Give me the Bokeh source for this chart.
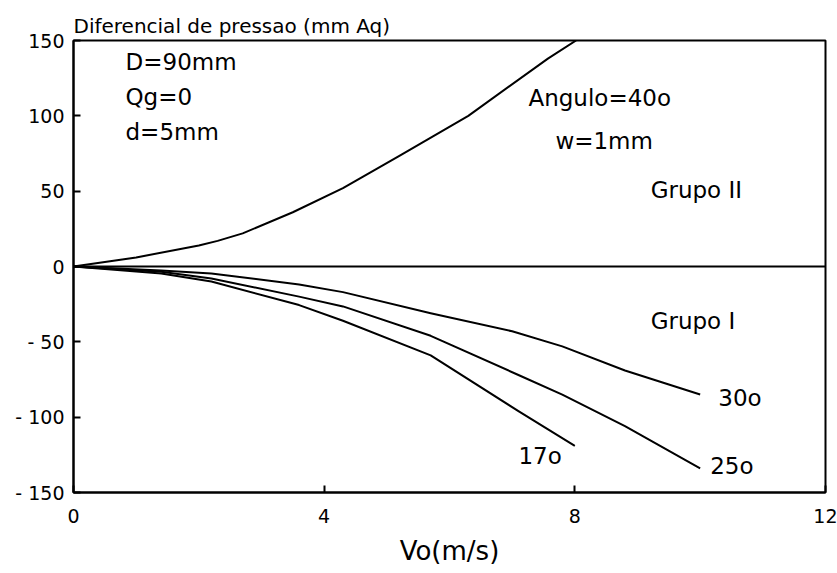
from bokeh.plotting import figure
from bokeh.models import Range1d, Label, FixedTicker
from bokeh.embed import file_html
from bokeh.resources import INLINE

# ---- data ----
x_g2 = [0, 1.0, 2.0, 2.3, 2.7, 3.5, 4.3, 5.2, 6.3, 7.57, 8.02]
y_g2 = [0, 6, 14, 17, 22, 36, 52, 73.5, 100, 138, 150]

x_30 = [0, 1.4, 2.2, 3.6, 4.3, 5.7, 7.0, 7.8, 8.8, 10.0]
y_30 = [0, -2.6, -4.6, -12, -17, -31, -43, -53, -69, -85]

x_25 = [0, 1.4, 2.2, 3.6, 4.3, 5.7, 7.1, 7.8, 8.8, 10.0]
y_25 = [0, -3.5, -8, -20, -26.5, -46, -72, -85, -106, -134]

x_17 = [0, 1.4, 2.2, 3.6, 4.3, 5.7, 7.1, 8.0]
y_17 = [0, -4.6, -10, -25.6, -36, -59, -96, -119]

x_ticks = [0, 4, 8, 12]
y_ticks = [-150, -100, -50, 0, 50, 100, 150]
y_tick_labels = ["- 150", "- 100", "- 50", "0", "50", "100", "150"]

FONT = "DejaVu Sans"

p = figure(width=837, height=573, output_backend="svg", toolbar_location=None,
           x_range=Range1d(0, 12), y_range=Range1d(-150, 150),
           min_border_left=73, min_border_right=12, min_border_top=40, min_border_bottom=81)

p.title.text = "Diferencial de pressao (mm Aq)"
p.title.align = "left"
p.title.text_font = FONT
p.title.text_font_size = "20px"
p.title.text_font_style = "normal"
p.title.text_color = "black"
p.title.standoff = 6

p.grid.visible = False
p.background_fill_color = "white"
p.border_fill_color = "white"
p.outline_line_color = "black"
p.outline_line_width = 2

for ax in (p.xaxis[0], p.yaxis[0]):
    ax.axis_line_color = "black"
    ax.axis_line_width = 2
    ax.major_tick_in = 7
    ax.major_tick_out = 0
    ax.major_tick_line_width = 2
    ax.minor_tick_line_color = None
    ax.major_label_text_font = FONT
    ax.major_label_text_font_size = "19px"
    ax.major_label_text_color = "black"

p.xaxis.ticker = FixedTicker(ticks=x_ticks)
p.xaxis.major_label_standoff = 16
p.xaxis.axis_label = "Vo(m/s)"
p.xaxis.axis_label_text_font = FONT
p.xaxis.axis_label_text_font_size = "26px"
p.xaxis.axis_label_text_font_style = "normal"
p.xaxis.axis_label_text_color = "black"
p.xaxis.axis_label_standoff = 10

p.yaxis.ticker = FixedTicker(ticks=y_ticks)
p.yaxis.major_label_overrides = {t: l for t, l in zip(y_ticks, y_tick_labels)}
p.yaxis.major_label_standoff = 9

# zero line
p.line([0, 12], [0, 0], line_color="black", line_width=2)

for xs, ys in ((x_g2, y_g2), (x_30, y_30), (x_25, y_25), (x_17, y_17)):
    p.line(xs, ys, line_color="black", line_width=2, line_join="round")

def lab(x, y, t):
    p.add_layout(Label(x=x, y=y, text=t, text_font=FONT, text_font_size="23px",
                       text_color="black", text_baseline="middle", text_align="left"))

lab(0.83, 135.5, "D=90mm")
lab(0.83, 112.5, "Qg=0")
lab(0.83, 89.5, "d=5mm")
lab(7.26, 112, "Angulo=40o")
lab(7.69, 83.5, "w=1mm")
lab(9.21, 50.5, "Grupo II")
lab(9.21, -36, "Grupo I")
lab(10.29, -87.5, "30o")
lab(10.16, -132.5, "25o")
lab(7.10, -125.5, "17o")

open("out.html", "w").write(file_html(p, INLINE))
